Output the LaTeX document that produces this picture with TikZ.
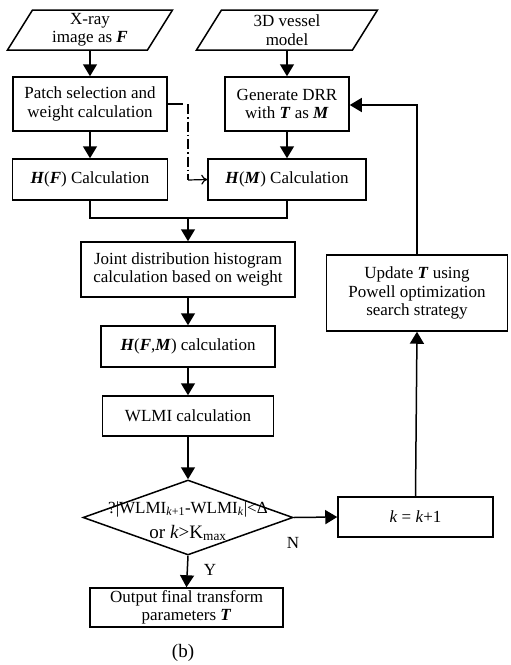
\documentclass[tikz,border=0pt]{standalone}
\usepackage{fontspec}
\setmainfont{Liberation Serif}
\usetikzlibrary{arrows.meta,shapes.geometric}
\newcommand{\bfi}[1]{\textbf{\textit{#1}}}
\begin{document}
\begin{tikzpicture}[x=1pt,y=-1pt,
  line width=1.5pt,
  txt/.style={font=\fontsize{17}{18.5}\selectfont, align=center, inner sep=0pt},
  box/.style={txt, draw, rectangle, line width=1.5pt},
  arr/.style={-{Triangle[length=12pt,width=14pt]}},
  dd/.style={line width=1.2pt, dash pattern=on 10pt off 3pt on 1.5pt off 3pt}
]
\useasboundingbox (0,0) rectangle (511,665);

% parallelograms
\node[txt, minimum width=140pt, minimum height=40pt] (in1) at (90,30) {X-ray\\image as \bfi{F}};
\draw (32.5,10) -- (172.5,10) -- (147.5,50) -- (7.5,50) -- cycle;
\node[txt, minimum width=156pt, minimum height=40pt] (in2) at (287,30) {3D vessel\\model};
\draw (221.5,10) -- (377.5,10) -- (352.5,50) -- (196.5,50) -- cycle;

% boxes
\node[box, minimum width=154pt, minimum height=54pt] (patch) at (90,104) {Patch selection and\\weight calculation};
\node[box, minimum width=124pt, minimum height=54pt] (gen) at (287,104) {Generate DRR\\with \bfi{T} as \bfi{M}};
\node[box, minimum width=155pt, minimum height=41pt] (hf) at (90,179.5) {\bfi{H}(\bfi{F}) Calculation};
\node[box, minimum width=158pt, minimum height=41pt] (hm) at (287,179.5) {\bfi{H}(\bfi{M}) Calculation};
\node[box, minimum width=214pt, minimum height=55pt] (joint) at (188,269.5) {Joint distribution histogram\\calculation based on weight};
\node[box, minimum width=174pt, minimum height=41pt] (hfm) at (188,346.5) {\bfi{H}(\bfi{F},\bfi{M}) calculation};
\node[box, minimum width=171pt, minimum height=40pt] (wlmi) at (188,416) {WLMI calculation};
\node[draw, diamond, aspect=2.8, minimum width=210pt, minimum height=75pt, inner sep=0pt] (dec) at (188,517.5) {};
\node[txt, font=\fontsize{17}{25}\selectfont] (dectext) at (188,521) {?|WLMI\textsubscript{\textit{k}+1}-WLMI\textsubscript{\textit{k}}|<Δ\\{\fontsize{19}{20}\selectfont or \textit{k}>K\textsubscript{max}}};
\node[box, minimum width=155pt, minimum height=40pt] (kk) at (415.5,517) {\textit{k} = \textit{k}+1};
\node[box, minimum width=181pt, minimum height=76pt] (upd) at (417,293) {Update \bfi{T} using\\Powell optimization\\search strategy};
\node[box, minimum width=193pt, minimum height=39pt] (out) at (186.5,607.5) {Output final transform\\parameters \bfi{T}};
\node[txt, font=\fontsize{19}{20}\selectfont] (cap) at (183,653) {(b)};

% connectors
\draw[arr] (in1.south) -- (patch.north);
\draw[arr] (in2.south) -- (gen.north);
\draw[arr] (patch.south) -- (hf.north);
\draw[arr] (gen.south) -- (hm.north);
\coordinate (mj) at (188,218);
\draw (hf.south) |- (mj) -| (hm.south);
\draw[arr] (mj) -- (joint.north);
\draw[arr] (joint.south) -- (hfm.north);
\draw[arr] (hfm.south) -- (wlmi.north);
\draw[arr] (wlmi.south) -- (dec.north);
\draw[arr] (dec.east) -- (kk.west);
\draw[arr] (kk.north) -- (upd.south);
\coordinate (top) at (417,105);
\draw[arr] (upd.north) -- (top) -- (gen.east |- top);
\draw[arr] (dec.south) -- (out.north);
\coordinate (d1) at (188,104);
\coordinate (d2) at (188,180);
\draw (patch.east) -- (183,104);
\draw[dd] (d1) -- (d2);
\draw[-{To[length=6pt,width=10pt]}, line width=1.2pt] (d2) -- (hm.west);

% labels
\node[txt] (ny) at (293,543) {N};
\node[txt] (yy) at (210,570) {Y};
\end{tikzpicture}
\end{document}
